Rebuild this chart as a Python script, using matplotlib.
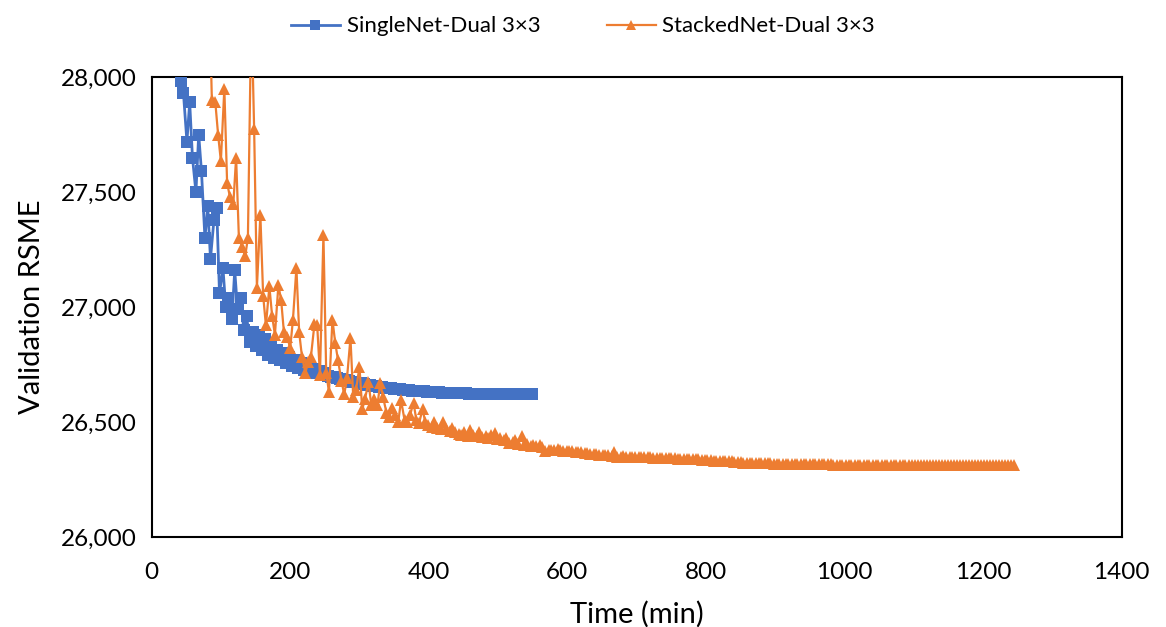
import matplotlib
matplotlib.use("Agg")
import matplotlib.pyplot as plt
from matplotlib.ticker import FuncFormatter

# Validation RSME against wall-clock training time
single_time = [
    38, 42, 46, 51, 55, 59, 64, 68, 72, 77,
    81, 85, 90, 94, 98, 103, 107, 111, 116, 120,
    124, 129, 133, 137, 142, 146, 150, 155, 159, 163,
    168, 172, 176, 181, 185, 189, 194, 198, 202, 207,
    211, 215, 220, 224, 228, 233, 237, 241, 246, 250,
    254, 259, 263, 267, 272, 276, 280, 285, 289, 293,
    298, 302, 306, 311, 315, 319, 324, 328, 332, 337,
    341, 345, 350, 354, 358, 363, 367, 371, 376, 380,
    384, 389, 393, 397, 402, 406, 410, 415, 419, 423,
    428, 432, 436, 441, 445, 449, 454, 458, 462, 467,
    471, 475, 480, 484, 488, 493, 497, 501, 506, 510,
    514, 519, 523, 527, 532, 536, 540, 545, 549,
]
single_rsme = [
    28250, 27985, 27930, 27720, 27890, 27650, 27500, 27750, 27590, 27300,
    27440, 27210, 27380, 27430, 27060, 27170, 27000, 27040, 26950, 27160,
    26990, 27040, 26900, 26960, 26850, 26890, 26830, 26880, 26815, 26860,
    26790, 26840, 26780, 26815, 26770, 26800, 26755, 26785, 26745, 26770,
    26735, 26755, 26728, 26742, 26720, 26732, 26712, 26722, 26706, 26712,
    26702, 26698, 26695, 26692, 26688, 26685, 26682, 26679, 26676, 26673,
    26670, 26668, 26665, 26663, 26660, 26658, 26656, 26654, 26652, 26650,
    26648, 26646, 26645, 26643, 26642, 26640, 26639, 26638, 26637, 26636,
    26635, 26634, 26633, 26632, 26631, 26630, 26630, 26629, 26628, 26628,
    26627, 26627, 26626, 26626, 26625, 26625, 26625, 26624, 26624, 26624,
    26624, 26623, 26623, 26623, 26623, 26623, 26622, 26622, 26622, 26622,
    26622, 26622, 26622, 26622, 26622, 26622, 26622, 26622, 26622,
]

stacked_time = [
    83, 87, 92, 96, 100, 105, 109, 113, 118, 122,
    126, 131, 135, 139, 144, 148, 152, 157, 161, 165,
    170, 174, 178, 183, 187, 191, 196, 200, 204, 209,
    213, 217, 222, 226, 230, 235, 239, 243, 248, 252,
    256, 261, 265, 269, 274, 278, 282, 287, 291, 295,
    300, 304, 308, 313, 317, 321, 326, 330, 334, 339,
    343, 347, 352, 356, 360, 365, 369, 373, 378, 382,
    386, 391, 395, 399, 404, 408, 412, 417, 421, 425,
    430, 434, 438, 443, 447, 451, 456, 460, 464, 469,
    473, 477, 482, 486, 490, 495, 499, 503, 508, 512,
    516, 521, 525, 529, 534, 538, 542, 547, 551, 555,
    560, 564, 568, 573, 577, 581, 586, 590, 594, 599,
    603, 607, 612, 616, 620, 625, 629, 633, 638, 642,
    646, 651, 655, 659, 664, 668, 672, 677, 681, 685,
    690, 694, 698, 703, 707, 711, 716, 720, 724, 729,
    733, 737, 742, 746, 750, 755, 759, 763, 768, 772,
    776, 781, 785, 789, 794, 798, 802, 807, 811, 815,
    820, 824, 828, 833, 837, 841, 846, 850, 854, 859,
    863, 867, 872, 876, 880, 885, 889, 893, 898, 902,
    906, 911, 915, 919, 924, 928, 932, 937, 941, 945,
    950, 954, 958, 963, 967, 971, 976, 980, 984, 989,
    993, 997, 1002, 1006, 1010, 1015, 1019, 1023, 1028, 1032,
    1036, 1041, 1045, 1049, 1054, 1058, 1062, 1067, 1071, 1075,
    1080, 1084, 1088, 1093, 1097, 1101, 1106, 1110, 1114, 1119,
    1123, 1127, 1132, 1136, 1140, 1145, 1149, 1153, 1158, 1162,
    1166, 1171, 1175, 1179, 1184, 1188, 1192, 1197, 1201, 1205,
    1210, 1214, 1218, 1223, 1227, 1231, 1236, 1240, 1244,
]
stacked_rsme = [
    28400, 27900, 27890, 27750, 27635, 27950, 27540, 27480, 27450, 27650,
    27300, 27260, 27220, 27300, 28300, 27775, 27085, 27400, 27050, 26920,
    27090, 26960, 26880, 27095, 27030, 26890, 26870, 26820, 26945, 27170,
    26890, 26785, 26715, 26760, 26785, 26925, 26920, 26705, 27315, 26715,
    26630, 26945, 26845, 26770, 26680, 26620, 26690, 26865, 26610, 26640,
    26740, 26555, 26600, 26675, 26575, 26600, 26575, 26670, 26610, 26540,
    26520, 26560, 26530, 26500, 26595, 26510, 26500, 26530, 26585, 26510,
    26495, 26555, 26500, 26485, 26480, 26500, 26475, 26470, 26500, 26470,
    26460, 26475, 26455, 26450, 26445, 26455, 26440, 26465, 26445, 26440,
    26458, 26435, 26440, 26430, 26445, 26452, 26425, 26430, 26420, 26430,
    26410, 26415, 26420, 26405, 26440, 26400, 26405, 26395, 26400, 26395,
    26400, 26390, 26375, 26378, 26380, 26378, 26382, 26378, 26376, 26374,
    26373, 26372, 26370, 26368, 26370, 26366, 26365, 26363, 26362, 26360,
    26357, 26355, 26357, 26355, 26354, 26368, 26350, 26350, 26351, 26350,
    26349, 26349, 26348, 26348, 26347, 26347, 26346, 26346, 26345, 26345,
    26344, 26344, 26343, 26343, 26342, 26342, 26341, 26341, 26340, 26340,
    26339, 26339, 26338, 26338, 26335, 26334, 26333, 26333, 26332, 26332,
    26331, 26331, 26330, 26330, 26329, 26326, 26325, 26325, 26324, 26324,
    26323, 26323, 26322, 26322, 26321, 26320, 26320, 26320, 26319, 26319,
    26319, 26318, 26318, 26318, 26318, 26317, 26317, 26317, 26317, 26317,
    26316, 26316, 26316, 26316, 26316, 26316, 26316, 26316, 26315, 26315,
    26315, 26315, 26315, 26315, 26315, 26315, 26315, 26315, 26315, 26315,
    26315, 26315, 26315, 26315, 26314, 26314, 26314, 26314, 26314, 26314,
    26314, 26314, 26314, 26314, 26314, 26314, 26314, 26314, 26314, 26314,
    26314, 26314, 26314, 26314, 26314, 26314, 26314, 26314, 26314, 26314,
    26314, 26314, 26314, 26314, 26314, 26314, 26314, 26314, 26314, 26314,
    26314, 26314, 26314, 26314, 26314, 26314, 26314, 26314, 26312,
]

series_labels = ["SingleNet-Dual 3×3", "StackedNet-Dual 3×3"]
x_ticks = [0, 200, 400, 600, 800, 1000, 1200, 1400]
y_ticks = [26000, 26500, 27000, 27500, 28000]

BLUE = "#4472C4"
ORANGE = "#ED7D31"

plt.rcParams["font.family"] = ["Lato", "DejaVu Sans"]

fig = plt.figure(figsize=(11.66, 6.27), dpi=100)
ax = fig.add_axes([0.130, 0.1435, 0.832, 0.7335])

ax.plot(single_time, single_rsme, color=BLUE, lw=2.0, marker="s",
        markersize=8.5, markeredgewidth=0, label=series_labels[0], zorder=3)
ax.plot(stacked_time, stacked_rsme, color=ORANGE, lw=1.6, marker="^",
        markersize=9, markeredgewidth=0, label=series_labels[1], zorder=4)

ax.set_xlim(0, 1400)
ax.set_ylim(26000, 28000)
ax.set_xticks(x_ticks)
ax.set_yticks(y_ticks)
ax.yaxis.set_major_formatter(FuncFormatter(lambda v, _: f"{int(v):,}"))
ax.tick_params(axis="both", length=0, labelsize=17.5, colors="black")
ax.tick_params(axis="x", pad=18)
ax.tick_params(axis="y", pad=11)

for sp in ax.spines.values():
    sp.set_linewidth(1.5)
    sp.set_color("black")

ax.set_xlabel("Time (min)", fontsize=21, labelpad=13)
ax.set_ylabel("Validation RSME", fontsize=21, labelpad=11)

leg = fig.legend(loc="center", bbox_to_anchor=(0.5, 0.958), ncol=2,
                 frameon=False, fontsize=16, handlelength=2.2,
                 columnspacing=3.0, handletextpad=0.3, markerscale=0.8)

fig.savefig("out.png", dpi=100)
